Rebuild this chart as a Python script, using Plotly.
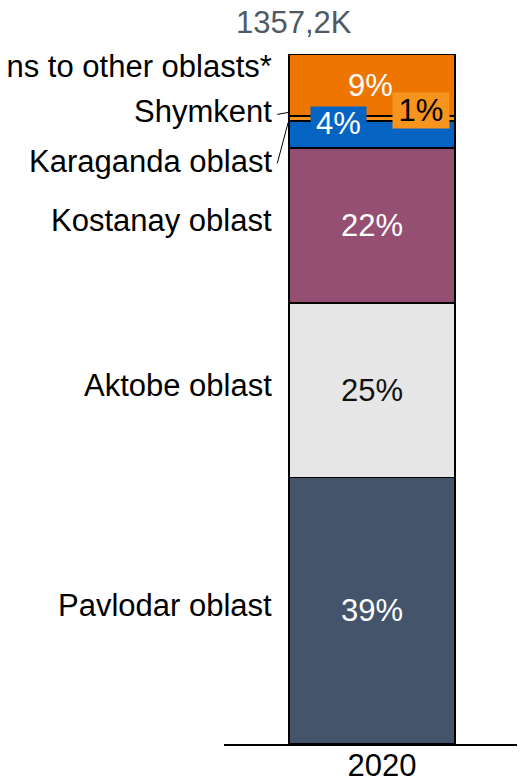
import plotly.graph_objects as go
import numpy as np

year = "2020"
total_label = "1357,2K"
categories = ["Pavlodar oblast", "Aktobe oblast", "Kostanay oblast",
              "Karaganda oblast", "Shymkent", "Transportations to other oblasts*"]
shares = [38.6, 25.3, 22.5, 3.9, 0.7, 9.0]
colors = ["#44546A", "#E6E6E6", "#954F72", "#0563C1", "#F7941D", "#EE7600"]

FONT = "Liberation Sans, Arial, sans-serif"
FS = 31

fig = go.Figure()
for cat, val, col in zip(categories, shares, colors):
    fig.add_trace(go.Bar(
        x=[year], y=[val], name=cat, marker_color=col,
        marker_line_color="#000000", marker_line_width=1.5,
        width=0.56, hoverinfo="skip", showlegend=False,
    ))

cum = np.cumsum(shares)
bottoms = cum - np.array(shares)
centers = bottoms + np.array(shares) / 2

# left category labels: (pixel y-shift relative to segment centre)
label_shift = [5, 5, 5, -27, 7, 19]
annotations = []
for cat, c, s in zip(categories, centers, label_shift):
    annotations.append(dict(
        x=-0.28, y=c, xref="x", yref="y", text=cat, showarrow=False,
        xanchor="right", yanchor="middle", xshift=-15, yshift=s,
        font=dict(family=FONT, size=FS, color="#000000"),
    ))

# percentage labels inside the bar
pct_style = {
    0: dict(color="#FFFFFF", xs=0, ys=0, bg=None),
    1: dict(color="#111111", xs=0, ys=0, bg=None),
    2: dict(color="#FFFFFF", xs=0, ys=0, bg=None),
    3: dict(color="#FFFFFF", xs=-34, ys=11, bg="#0563C1", w=55, h=32),
    4: dict(color="#000000", xs=49, ys=8, bg="#F7941D", w=56, h=35),
    5: dict(color="#FFFFFF", xs=-2, ys=0, bg=None),
}
for i, (val, c) in enumerate(zip(shares, centers)):
    st = pct_style[i]
    a = dict(
        x=0, y=c, xref="x", yref="y", text=f"{round(val):d}%", showarrow=False,
        xanchor="center", yanchor="middle", xshift=st["xs"], yshift=st["ys"],
        font=dict(family=FONT, size=FS, color=st["color"]),
    )
    if st["bg"]:
        a.update(bgcolor=st["bg"], width=st["w"], height=st["h"], borderpad=0)
    annotations.append(a)

# total label
annotations.append(dict(
    x=0.236, y=1, xref="paper", yref="paper", text=total_label, showarrow=False,
    xanchor="center", yanchor="middle", yshift=32,
    font=dict(family=FONT, size=FS, color="#4D5A66"),
))

# leader lines for small segments
shapes = [
    dict(type="line", xref="x", yref="y", x0=-0.28 - 0.04, x1=-0.28,
         y0=centers[4] + 0.6, y1=centers[4] + 0.9,
         line=dict(color="#000000", width=1)),
    dict(type="line", xref="x", yref="y", x0=-0.28 - 0.04, x1=-0.28 - 0.003,
         y0=centers[3] - 4.2, y1=cum[3] - 0.2,
         line=dict(color="#000000", width=1)),
]

# page has an 8px body margin, so the figure is 8px smaller than the window
fig.update_layout(
    barmode="stack",
    width=517, height=773,
    margin=dict(l=216, r=5, t=46, b=37, autoexpand=False),
    paper_bgcolor="#FFFFFF", plot_bgcolor="#FFFFFF",
    annotations=annotations, shapes=shapes,
    xaxis=dict(type="category", range=[-0.5, 0.5], showline=True,
               linecolor="#000000", linewidth=1.5, ticks="",
               showgrid=False, zeroline=False, automargin=False,
               tickfont=dict(family=FONT, size=FS, color="#000000"),
               ticklabelshift=10, ticklabelstandoff=-7),
    yaxis=dict(range=[0, 100], visible=False, showgrid=False, zeroline=False),
)

fig.write_html("out.html")
